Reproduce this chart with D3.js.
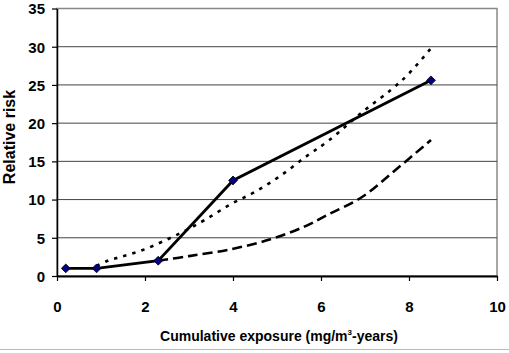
<!DOCTYPE html>
<html>
<head>
<meta charset="utf-8">
<script src="https://cdn.jsdelivr.net/npm/d3@7"></script>
<style>
  body { margin: 0; background: #fff; }
  svg { display: block; }
  text { font-family: "Liberation Sans", Arial, sans-serif; font-weight: bold; fill: #000; }
</style>
</head>
<body>
<div id="chart"></div>
<script>
var width = 509
var height = 353

// observed relative risk (solid line with markers)
const observedX = [0.2, 0.9, 2.3, 4.0, 8.5]
const observedY = [1.0, 1.0, 2.0, 12.5, 25.6]

// dotted fitted curve
const dottedX = [0.9, 1.15, 1.45, 1.95, 2.8, 3.35, 3.95, 4.5, 5.1, 5.7, 6.15, 6.95, 7.6, 8.0, 8.5]
const dottedY = [1.3, 2.0, 2.5, 3.4, 5.6, 7.3, 9.4, 11.0, 13.2, 15.8, 17.6, 21.5, 24.4, 26.5, 29.8]

// dashed fitted curve
const dashedX = [2.3, 3.0, 3.95, 4.85, 5.6, 6.15, 6.95, 7.7, 8.5]
const dashedY = [2.0, 2.6, 3.5, 4.8, 6.4, 8.0, 10.4, 13.9, 17.8]

const xTicks = [0, 2, 4, 6, 8, 10]
const yTicks = [0, 5, 10, 15, 20, 25, 30, 35]

const margin = {top: 8.5, right: 12, bottom: 77, left: 57}
const innerWidth = width - margin.left - margin.right
const innerHeight = height - margin.top - margin.bottom

const svg = d3.select("#chart").append("svg")
    .attr("width", width)
    .attr("height", height)

const xScale = d3.scaleLinear().domain([0, 10]).range([0, innerWidth])
const yScale = d3.scaleLinear().domain([0, 35]).range([innerHeight, 0])

const g = svg.append("g")
    .attr("transform", `translate(${margin.left}, ${margin.top})`)

// plot area border (grey)
g.append("rect")
    .attr("x", 0).attr("y", 0)
    .attr("width", innerWidth).attr("height", innerHeight)
    .attr("fill", "none")
    .attr("stroke", "#888")
    .attr("stroke-width", 1.5)

// grid lines
g.selectAll(".grid").data(yTicks.filter(d => d > 0 && d < 35))
  .enter().append("line")
    .attr("class", "grid")
    .attr("x1", 0).attr("x2", innerWidth)
    .attr("y1", d => yScale(d)).attr("y2", d => yScale(d))
    .attr("stroke", "#444")
    .attr("stroke-width", 1)

const yAxis = d3.axisLeft(yScale).tickValues(yTicks).tickSize(5).tickSizeOuter(0).tickPadding(7)
const yAxisG = g.append("g").call(yAxis)
yAxisG.attr("font-size", null).attr("font-family", null)
yAxisG.select(".domain").attr("stroke", "#000").attr("stroke-width", 1.5)
yAxisG.selectAll(".tick line").attr("stroke", "#000").attr("stroke-width", 1.2)
yAxisG.selectAll("text").style("font-size", "15px").attr("dy", "0.36em")

const xAxis = d3.axisBottom(xScale).tickValues(xTicks).tickSize(5).tickSizeOuter(0).tickPadding(20)
const xAxisG = g.append("g").call(xAxis)
    .attr("transform", `translate(0, ${innerHeight})`)
xAxisG.attr("font-size", null).attr("font-family", null)
xAxisG.select(".domain").attr("stroke", "#000").attr("stroke-width", 2)
xAxisG.selectAll(".tick line").attr("stroke", "#000").attr("stroke-width", 1.2)
xAxisG.selectAll("text").style("font-size", "15px")

const line = d3.line()
    .x(d => xScale(d[0]))
    .y(d => yScale(d[1]))
    .curve(d3.curveCatmullRom)

g.append("path")
    .datum(d3.zip(dottedX, dottedY))
    .attr("d", line)
    .attr("fill", "none")
    .attr("stroke", "#000")
    .attr("stroke-width", 2.6)
    .attr("stroke-dasharray", "3.5,6")

g.append("path")
    .datum(d3.zip(dashedX, dashedY))
    .attr("d", line)
    .attr("fill", "none")
    .attr("stroke", "#000")
    .attr("stroke-width", 2.6)
    .attr("stroke-dasharray", "10,5")

const observed = d3.zip(observedX, observedY)

g.append("path")
    .datum(observed)
    .attr("d", d3.line().x(d => xScale(d[0])).y(d => yScale(d[1])))
    .attr("fill", "none")
    .attr("stroke", "#000")
    .attr("stroke-width", 2.8)

g.selectAll(".marker").data(observed)
  .enter().append("path")
    .attr("class", "marker")
    .attr("d", d3.symbol().type(d3.symbolDiamond2).size(50))
    .attr("transform", d => `translate(${xScale(d[0])}, ${yScale(d[1])})`)
    .attr("fill", "#000080")
    .attr("stroke", "#000")
    .attr("stroke-width", 0.8)

svg.append("text")
    .attr("x", margin.left + innerWidth / 2 + 2)
    .attr("y", 341)
    .attr("text-anchor", "middle")
    .style("font-size", "14px")
    .html('Cumulative exposure (mg/m<tspan dy="-6" style="font-size:8px">3</tspan><tspan dy="6">-years)</tspan>')

svg.append("text")
    .attr("transform", `translate(15, 137) rotate(-90)`)
    .attr("text-anchor", "middle")
    .style("font-size", "16px")
    .text("Relative risk")

// chart bottom border
svg.append("line")
    .attr("x1", 0).attr("x2", width)
    .attr("y1", 349.5).attr("y2", 349.5)
    .attr("stroke", "#bbb")
    .attr("stroke-width", 1)
</script>
</body>
</html>
